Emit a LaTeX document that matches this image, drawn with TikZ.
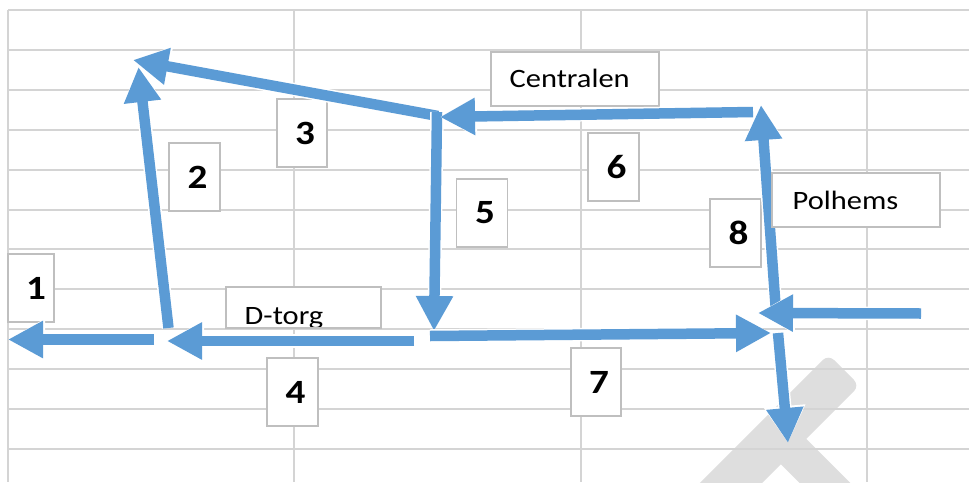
\documentclass[tikz,border=0pt]{standalone}
\usepackage{fontspec}
\usepackage{graphicx}
\setmainfont{Carlito}
\usetikzlibrary{arrows.meta}
\definecolor{arrblue}{HTML}{5B9BD5}
\definecolor{gridgray}{HTML}{D4D4D4}
\definecolor{boxgray}{HTML}{BFBFBF}
\definecolor{markgray}{HTML}{DEDEDE}
\newcommand{\widetext}[1]{\scalebox{1.15}[1]{#1}}
\newcommand{\numlab}[2][6pt]{\hspace*{#1}\widetext{\bfseries #2}}

\begin{document}
\begin{tikzpicture}[x=1pt,y=-1pt,
  gridline/.style={draw=gridgray,line width=2pt},
  numbox/.style={draw=boxgray,fill=white,line width=1.4pt,minimum width=51pt,
    minimum height=68pt,inner sep=0pt,font=\fontsize{34}{34}\selectfont},
  namebox/.style={draw=boxgray,fill=white,line width=1.4pt,inner sep=0pt},
  nametext/.style={anchor=base west,inner sep=0pt,font=\fontsize{26.5}{26.5}\selectfont},
  arr/.style={draw=arrblue,line width=10.5pt,-{Triangle[length=35pt,width=35pt]},
    preaction={draw=white,line width=13.5pt,-{Triangle[length=37pt,width=39pt]}}},
  mark/.style={fill=markgray,draw=none}
]
\useasboundingbox (0,0) rectangle (969,482);
\fill[white] (0,0) rectangle (969,482);

% watermark
\begin{scope}
  \clip (0,0) rectangle (969,482);
  \fill[markgray,rounded corners=8pt] (828.4,354.4) -- (859.6,385.6) -- (718.6,526.6) -- (687.4,495.4) -- cycle;
  \fill[markgray] (791.2,423.8) -- (912.7,545.3) -- (887.3,570.7) -- (765.8,449.2) -- cycle;
\end{scope}

% grid
\foreach \gx in {8,294,581,867} \draw[gridline] (\gx,10) -- (\gx,482);
\foreach \k in {0,...,11} \draw[gridline] (8,10+39.9*\k) -- (969,10+39.9*\k);

% number boxes
\node[numbox,minimum width=46pt] (n1) at (31,288) {\numlab[10pt]{1}};
\node[numbox] (n2) at (194.5,177) {\numlab{2}};
\node[numbox,minimum width=50pt] (n3) at (302,133) {\numlab{3}};
\node[numbox] (n4) at (292.5,392) {\numlab{4}};
\node[numbox] (n5) at (482,213) {\numlab{5}};
\node[numbox] (n6) at (613.5,167) {\numlab{6}};
\node[numbox,minimum width=50pt] (n7) at (596,382) {\numlab{7}};
\node[numbox] (n8) at (735.5,233) {\numlab{8}};

% name boxes
\node[namebox,minimum width=168pt,minimum height=54pt] (cbox) at (575,79) {};
\node[nametext] (ctext) at (509.4,87.7) {\widetext{Centralen}};
\node[namebox,minimum width=155pt,minimum height=41pt] (dbox) at (303.5,307.5) {};
\begin{scope}
  \clip (227,288.2) rectangle (380,326.8);
  \node[nametext] (dtext) at (244.5,324.7) {\widetext{D-torg}};
\end{scope}

% arrow end points
\coordinate (a1s) at (154,339.5);  \coordinate (a1e) at (8,339.5);
\coordinate (a4s) at (414,341);    \coordinate (a4e) at (167,341);
\coordinate (a2s) at (168.5,328);  \coordinate (a2e) at (138.5,67);
\coordinate (a3s) at (438,116);    \coordinate (a3e) at (133,60);
\coordinate (a5s) at (437,112);    \coordinate (a5e) at (434,331);
\coordinate (a6s) at (753,112);    \coordinate (a6e) at (440,117);
\coordinate (a9s) at (778,333);    \coordinate (a9e) at (788,443);
\coordinate (a7s) at (430,336);    \coordinate (a7e) at (771,333);
\coordinate (a8s) at (776,312);    \coordinate (a8e) at (761,105);
\coordinate (a10s) at (921,313.5); \coordinate (a10e) at (758,313);

% arrows
\draw[arr] (a1s) -- (a1e);
\draw[arr] (a4s) -- (a4e);
\draw[arr] (a2s) -- (a2e);
\draw[arr] (a3s) -- (a3e);
\draw[arr] (a5s) -- (a5e);
\draw[arr] (a6s) -- (a6e);
\draw[arr] (a9s) -- (a9e);
\draw[arr] (a7s) -- (a7e);
\draw[arr] (a8s) -- (a8e);
\draw[arr] (a10s) -- (a10e);

% Polhems box on top
\node[namebox,minimum width=168pt,minimum height=54pt] (pbox) at (856,200) {};
\node[nametext] (ptext) at (792.5,209) {\widetext{Polhems}};
\end{tikzpicture}
\end{document}
